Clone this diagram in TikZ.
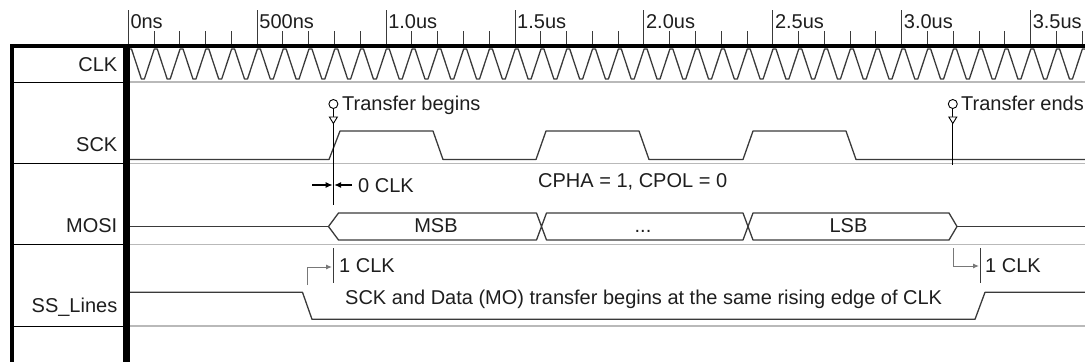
\documentclass[tikz,border=0pt]{standalone}
\usepackage{fontspec}
\setmainfont{Liberation Sans}
\usepackage{xcolor}
\usepackage{tikz}
\usetikzlibrary{arrows.meta,positioning,calc}
\definecolor{wavegray}{RGB}{58, 58, 58}
\definecolor{gridgray}{RGB}{185, 185, 185}
\definecolor{notegray}{RGB}{120, 120, 120}
\definecolor{labelink}{RGB}{30, 30, 30}

\begin{document}
\begin{tikzpicture}[x=1pt, y=-1pt, >=stealth,
        every node/.style={font=\fontsize{20}{23}\selectfont, text=labelink, inner sep=0pt},
        wave/.style={line width=1.3pt, color=wavegray, line join=round},
        rowline/.style={line width=1.2pt, color=gridgray},
        markcirc/.style={draw=black, circle, minimum size=9pt, line width=0.9pt}]
        \useasboundingbox (0, 0) rectangle (1085, 362);
        \clip (0, 0) rectangle (1085, 362);
        \def\clkP{25.78}

        % Time scale
        \foreach \i in {0,...,37} {
            \pgfmathtruncatemacro{\r}{mod(\i,5)}
            \ifnum\r=0
                \draw[line width=1pt, color=wavegray] ({128.3+\i*\clkP}, 10) -- ({128.3+\i*\clkP}, 45);
            \else
                \draw[line width=1pt, color=wavegray] ({128.3+\i*\clkP}, 31) -- ({128.3+\i*\clkP}, 45);
            \fi
        }
        \foreach \i/\t in {0/0ns, 1/500ns, 2/1.0us, 3/1.5us, 4/2.0us, 5/2.5us, 6/3.0us, 7/3.5us}
            \node[anchor=base west] (tick\i) at ({130.3+\i*5*\clkP}, 28.5) {\t};

        % Row separators
        \foreach \y in {82, 163.5, 244.5, 326} {
            \draw[line width=1pt, color=black] (14, \y) -- (123, \y);
            \draw[rowline] (130, \y) -- (1085, \y);
        }

        % Frame
        \draw[line width=4pt] (10, 45.5) -- (1085, 45.5);
        \draw[line width=4pt] (12, 44) -- (12, 362);
        \draw[line width=6.5pt] (126.5, 44) -- (126.5, 362);

        % Signal names
        \node[anchor=base east] (clklbl) at (117.5, 71) {CLK};
        \node[anchor=base east] (scklbl) at (117.5, 151) {SCK};
        \node[anchor=base east] (mosilbl) at (117.5, 232) {MOSI};
        \node[anchor=base east] (sslbl) at (117.5, 312) {SS\_Lines};

        % CLK
        \draw[wave] (130, 49) \foreach \k in {0,...,37} {
            -- ({130+\k*\clkP+1.5}, 49) -- ({130+\k*\clkP+\clkP/2-1.5}, 79)
            -- ({130+\k*\clkP+\clkP/2+1.5}, 79) -- ({130+(\k+1)*\clkP-1.5}, 49)};

        % SCK
        \draw[wave] (130, 159.5) -- (329, 159.5) -- (340, 131) -- (433, 131) -- (443, 159.5)
            -- (536, 159.5) -- (546, 131) -- (639, 131) -- (649, 159.5)
            -- (743, 159.5) -- (753, 131) -- (846, 131) -- (856, 159.5) -- (1085, 159.5);

        % MOSI
        \draw[wave] (130, 226.5) -- (328.5, 226.5);
        \draw[wave] (328.5, 226.5) -- (338.5, 213) -- (536.5, 213) -- (546.5, 240) -- (743, 240)
            -- (753, 213) -- (949, 213) -- (957, 226.5) -- (949, 240) -- (753, 240) -- (743, 213)
            -- (546.5, 213) -- (536.5, 240) -- (338.5, 240) -- cycle;
        \draw[wave] (957, 226.5) -- (1085, 226.5);
        \node[anchor=base] (msb) at (436, 232) {MSB};
        \node[anchor=base] (mid) at (643, 232) {...};
        \node[anchor=base] (lsb) at (848.5, 232) {LSB};

        % SS_Lines
        \draw[wave] (130, 292.3) -- (302.5, 292.3) -- (312, 319.3) -- (975, 319.3) -- (985, 292.3) -- (1085, 292.3);
        \node[anchor=base west] (ssnote) at (345, 304) {SCK and Data (MO) transfer begins at the same rising edge of CLK};

        % Transfer begins marker
        \node[markcirc] (tb) at (333.4, 104) {};
        \coordinate (tbend) at (333.4, 205);
        \draw[line width=0.9pt] (tb.south) -- ++(0, 8);
        \draw[line width=0.9pt, fill=white] ($(tb.south)+(-4, 8)$) -- ++(8, 0) -- ++(-4, 6.5) -- cycle;
        \draw[line width=1.1pt] ($(tb.south)+(0, 14.5)$) -- (tbend);
        \node[anchor=base west] (tbtext) at (342, 110) {Transfer begins};

        % Transfer ends marker
        \node[markcirc] (te) at (952.8, 104) {};
        \coordinate (teend) at (952.8, 165);
        \draw[line width=0.9pt] (te.south) -- ++(0, 8);
        \draw[line width=0.9pt, fill=white] ($(te.south)+(-4, 8)$) -- ++(8, 0) -- ++(-4, 6.5) -- cycle;
        \draw[line width=1.1pt] ($(te.south)+(0, 14.5)$) -- (teend);
        \node[anchor=base west] (tetext) at (961, 110) {Transfer ends};

        % 0 CLK delay
        \coordinate (zl) at (312, 185);
        \coordinate (zr) at (352, 185);
        \draw[->, line width=1.1pt, >={Latex[length=7pt, width=6pt]}] (zl) -- (332.6, 185);
        \draw[->, line width=1.1pt, >={Latex[length=7pt, width=6pt]}] (zr) -- (334.2, 185);
        \node[anchor=base west] (zclk) at (358, 192) {0 CLK};
        \node[anchor=base west] (cpha) at (538, 187) {CPHA = 1, CPOL = 0};

        % 1 CLK delays
        \coordinate (sa) at (307, 285);
        \coordinate (sb) at (307, 267);
        \coordinate (sc) at (332, 267);
        \draw[line width=1pt, color=wavegray] (333.4, 248) -- (333.4, 283);
        \draw[->, line width=1pt, color=notegray, >={Latex[length=6pt, width=5pt]}] (sa) -- (sb) -- (sc);
        \node[anchor=base west] (oclk) at (339, 272) {1 CLK};

        \coordinate (ea) at (953.3, 248);
        \coordinate (eb) at (953.3, 266);
        \coordinate (ec) at (979, 266);
        \draw[line width=1pt, color=wavegray] (980.5, 248) -- (980.5, 283);
        \draw[->, line width=1pt, color=notegray, >={Latex[length=6pt, width=5pt]}] (ea) -- (eb) -- (ec);
        \node[anchor=base west] (eclk) at (985, 272) {1 CLK};
    \end{tikzpicture}
\end{document}
